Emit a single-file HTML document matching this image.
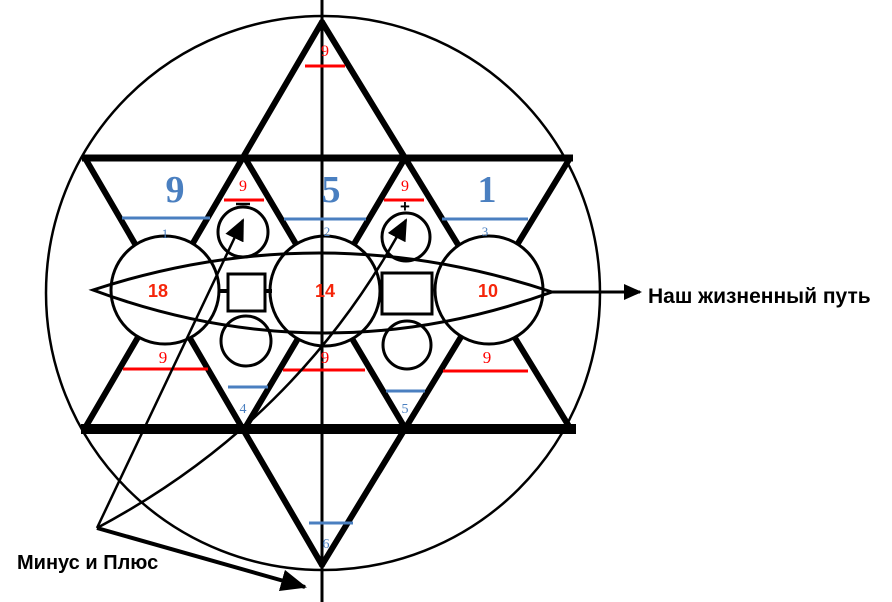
<!DOCTYPE html>
<html><head><meta charset="utf-8"><style>
html,body{margin:0;padding:0;background:#fff;width:892px;height:602px;overflow:hidden}
</style></head><body>
<svg width="892" height="602" viewBox="0 0 892 602" xmlns="http://www.w3.org/2000/svg">
<defs>
<marker id="ah2" markerWidth="18" markerHeight="16" refX="16" refY="8" orient="auto" markerUnits="userSpaceOnUse"><path d="M0,0 L18,8 L0,16 z" fill="#000"/></marker>
<marker id="ah4" markerWidth="22" markerHeight="20" refX="20" refY="10" orient="auto" markerUnits="userSpaceOnUse"><path d="M0,0 L22,10 L0,20 z" fill="#000"/></marker>
<marker id="ah3" markerWidth="26" markerHeight="22" refX="24" refY="11" orient="auto" markerUnits="userSpaceOnUse"><path d="M0,0 L26,11 L0,22 z" fill="#000"/></marker>
</defs>
<circle cx="323" cy="293" r="277" fill="none" stroke="#000" stroke-width="2.5"/>
<g stroke="#000" stroke-width="6" stroke-linecap="round" fill="none">
<line x1="322" y1="22" x2="85" y2="428"/>
<line x1="322" y1="22" x2="570" y2="428"/>
<line x1="85" y1="158" x2="322" y2="565"/>
<line x1="570" y1="158" x2="322" y2="565"/>
<line x1="245" y1="158" x2="405" y2="428"/>
<line x1="405" y1="158" x2="245" y2="428"/>
</g>
<line x1="82" y1="158" x2="573" y2="158" stroke="#000" stroke-width="7"/>
<line x1="81" y1="429" x2="576" y2="429" stroke="#000" stroke-width="10"/>
<line x1="322" y1="0" x2="322" y2="602" stroke="#000" stroke-width="3"/>
<g stroke-width="3">
<line x1="305" y1="66" x2="345" y2="66" stroke="#f00"/>
<line x1="224" y1="200" x2="264" y2="200" stroke="#f00"/>
<line x1="384" y1="200" x2="424" y2="200" stroke="#f00"/>
<line x1="122" y1="218" x2="210" y2="218" stroke="#4a7fc0"/>
<line x1="284" y1="219" x2="366" y2="219" stroke="#4a7fc0"/>
<line x1="442" y1="219" x2="528" y2="219" stroke="#4a7fc0"/>
<line x1="123" y1="369" x2="208" y2="369" stroke="#f00"/>
<line x1="283" y1="370" x2="365" y2="370" stroke="#f00"/>
<line x1="443" y1="371" x2="528" y2="371" stroke="#f00"/>
<line x1="228" y1="387" x2="268" y2="387" stroke="#4a7fc0"/>
<line x1="386" y1="391" x2="425" y2="391" stroke="#4a7fc0"/>
<line x1="309" y1="523" x2="353" y2="523" stroke="#4a7fc0"/>
</g>
<g fill="#fff" stroke="#000" stroke-width="3">
<circle cx="165" cy="290" r="54"/>
<circle cx="325" cy="291" r="55"/>
<circle cx="489" cy="290" r="54"/>
<circle cx="243" cy="232" r="25"/>
<circle cx="246" cy="341" r="25"/>
<circle cx="406" cy="237" r="24"/>
<circle cx="407" cy="345" r="24"/>
<rect x="228" y="274" width="37" height="37"/>
<rect x="382" y="273" width="50" height="41"/>
</g>
<line x1="218" y1="291" x2="228" y2="291" stroke="#000" stroke-width="4"/>
<line x1="265" y1="291" x2="272" y2="291" stroke="#000" stroke-width="4"/>
<line x1="322" y1="236" x2="322" y2="346" stroke="#000" stroke-width="3"/>
<path d="M93,290 Q322,215 552,292 Q322,375 93,290 Z" fill="none" stroke="#000" stroke-width="3"/>
<line x1="552" y1="292" x2="640" y2="292" stroke="#000" stroke-width="3" marker-end="url(#ah2)"/>
<line x1="97" y1="528" x2="243" y2="220" stroke="#000" stroke-width="2.5" marker-end="url(#ah4)"/>
<path d="M97,528 Q300,420 406,220" fill="none" stroke="#000" stroke-width="2.5" marker-end="url(#ah4)"/>
<line x1="97" y1="528" x2="305" y2="587" stroke="#000" stroke-width="4" marker-end="url(#ah3)"/>
<g font-family="Liberation Serif, serif" text-anchor="middle">
<text x="175" y="202" font-size="38" font-weight="bold" fill="#4a7fc0">9</text>
<text x="331" y="202" font-size="38" font-weight="bold" fill="#4a7fc0">5</text>
<text x="487" y="202" font-size="38" font-weight="bold" fill="#4a7fc0">1</text>
<text x="165" y="238" font-size="13" fill="#4a7fc0">1</text>
<text x="327" y="236" font-size="13" fill="#4a7fc0">2</text>
<text x="485" y="236" font-size="13" fill="#4a7fc0">3</text>
<text x="243" y="413" font-size="14" fill="#4a7fc0">4</text>
<text x="405" y="413" font-size="14" fill="#4a7fc0">5</text>
<text x="326" y="548" font-size="14" fill="#4a7fc0">6</text>
<text x="325" y="56" font-size="16" fill="#f00">9</text>
<text x="243" y="191" font-size="16" fill="#f00">9</text>
<text x="405" y="191" font-size="16" fill="#f00">9</text>
<text x="163" y="363" font-size="17" fill="#f00">9</text>
<text x="325" y="363" font-size="17" fill="#f00">9</text>
<text x="487" y="363" font-size="17" fill="#f00">9</text>
</g>
<g font-family="Liberation Sans, sans-serif" font-weight="bold" text-anchor="middle" fill="#f5250a" font-size="18">
<text x="158" y="297">18</text>
<text x="325" y="297">14</text>
<text x="488" y="297">10</text>
</g>
<line x1="236" y1="204" x2="250" y2="204" stroke="#000" stroke-width="2.5"/>
<text x="405" y="212" font-family="Liberation Sans, sans-serif" font-weight="bold" font-size="17" text-anchor="middle">+</text>
<text x="648" y="303" font-family="Liberation Sans, sans-serif" font-weight="bold" font-size="21">Наш жизненный путь</text>
<text x="17" y="569" font-family="Liberation Sans, sans-serif" font-weight="bold" font-size="20">Минус и Плюс</text>
</svg>
</body></html>
